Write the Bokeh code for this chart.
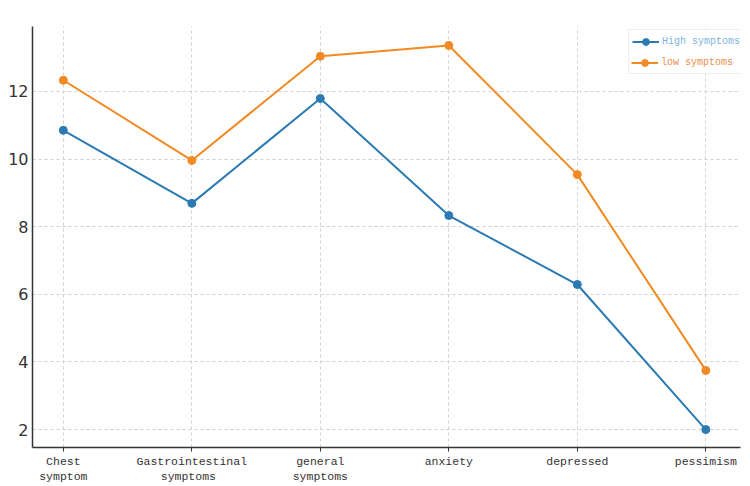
from bokeh.plotting import figure
from bokeh.models import Range1d, FixedTicker, Legend, LegendItem
from bokeh.embed import file_html
from bokeh.resources import INLINE

categories = ["Chest\nsymptom", "Gastrointestinal\n symptoms", "general\nsymptoms",
              "anxiety", "depressed", "pessimism"]
high_symptoms = [10.85, 8.69, 11.79, 8.33, 6.29, 2.0]
low_symptoms = [12.33, 9.96, 13.04, 13.36, 9.54, 3.75]
y_ticks = [2, 4, 6, 8, 10, 12]

BLUE = "#2b7bb2"
ORANGE = "#f28a24"

x = list(range(len(categories)))

p = figure(width=742, height=486, output_backend="svg", toolbar_location=None,
           x_range=Range1d(-0.24, 5.27), y_range=Range1d(1.47, 13.92),
           min_border_left=32, min_border_right=2, min_border_top=26,
           min_border_bottom=39)
p.outline_line_color = None
p.background_fill_color = "white"
p.border_fill_color = "white"

r1 = p.line(x, high_symptoms, line_color=BLUE, line_width=2)
s1 = p.scatter(x, high_symptoms, fill_color=BLUE, line_color=BLUE, size=8)
r2 = p.line(x, low_symptoms, line_color=ORANGE, line_width=2)
s2 = p.scatter(x, low_symptoms, fill_color=ORANGE, line_color=ORANGE, size=8)

p.xaxis.ticker = FixedTicker(ticks=x)
p.xaxis.major_label_overrides = {i: c for i, c in enumerate(categories)}
p.yaxis.ticker = FixedTicker(ticks=y_ticks)

for ax in (p.xaxis, p.yaxis):
    ax.axis_line_color = "#333333"
    ax.axis_line_width = 1.5
    ax.minor_tick_line_color = None
    ax.major_tick_line_color = "#333333"
    ax.major_tick_in = 0

p.xaxis.major_tick_out = 4
p.yaxis.major_tick_out = 0
p.xaxis.major_label_text_font = "Liberation Mono"
p.xaxis.major_label_text_font_size = "11.5px"
p.xaxis.major_label_text_color = "#333333"
p.xaxis.major_label_text_line_height = 1.2
p.xaxis.major_label_standoff = 3
p.yaxis.major_label_text_font = "DejaVu Sans"
p.yaxis.major_label_text_font_size = "16px"
p.yaxis.major_label_text_color = "#333333"
p.yaxis.major_label_standoff = 4

for g in (p.xgrid, p.ygrid):
    g.grid_line_color = "#d0d0d0"
    g.grid_line_dash = "3 3"
    g.grid_line_width = 1

PAD, H, S = 3, 17, 3
LX, LY = 596, 373

leg1 = Legend(items=[LegendItem(label="High symptoms", renderers=[r1, s1]),
                     LegendItem(label="low symptoms", renderers=[r2, s2])],
              location=(LX, LY), margin=0, padding=PAD, spacing=S,
              glyph_height=H, glyph_width=27, label_height=H, label_standoff=3,
              label_text_font="Liberation Mono", label_text_font_size="10px",
              label_text_color="#7fb3e0", border_line_color="#dddddd",
              background_fill_color="white", background_fill_alpha=0.9)
leg2 = Legend(items=[LegendItem(label="low symptoms", renderers=[r2, s2])],
              location=(LX + PAD, LY + PAD), margin=0, padding=0,
              spacing=S, glyph_height=H, glyph_width=27, label_height=H,
              label_standoff=3, label_text_font="Liberation Mono",
              label_text_font_size="10px", label_text_color="#ec8f4e",
              border_line_alpha=0, background_fill_color="white",
              background_fill_alpha=1.0)
p.add_layout(leg1, "center")
p.add_layout(leg2, "center")

open("out.html", "w").write(file_html(p, INLINE))
